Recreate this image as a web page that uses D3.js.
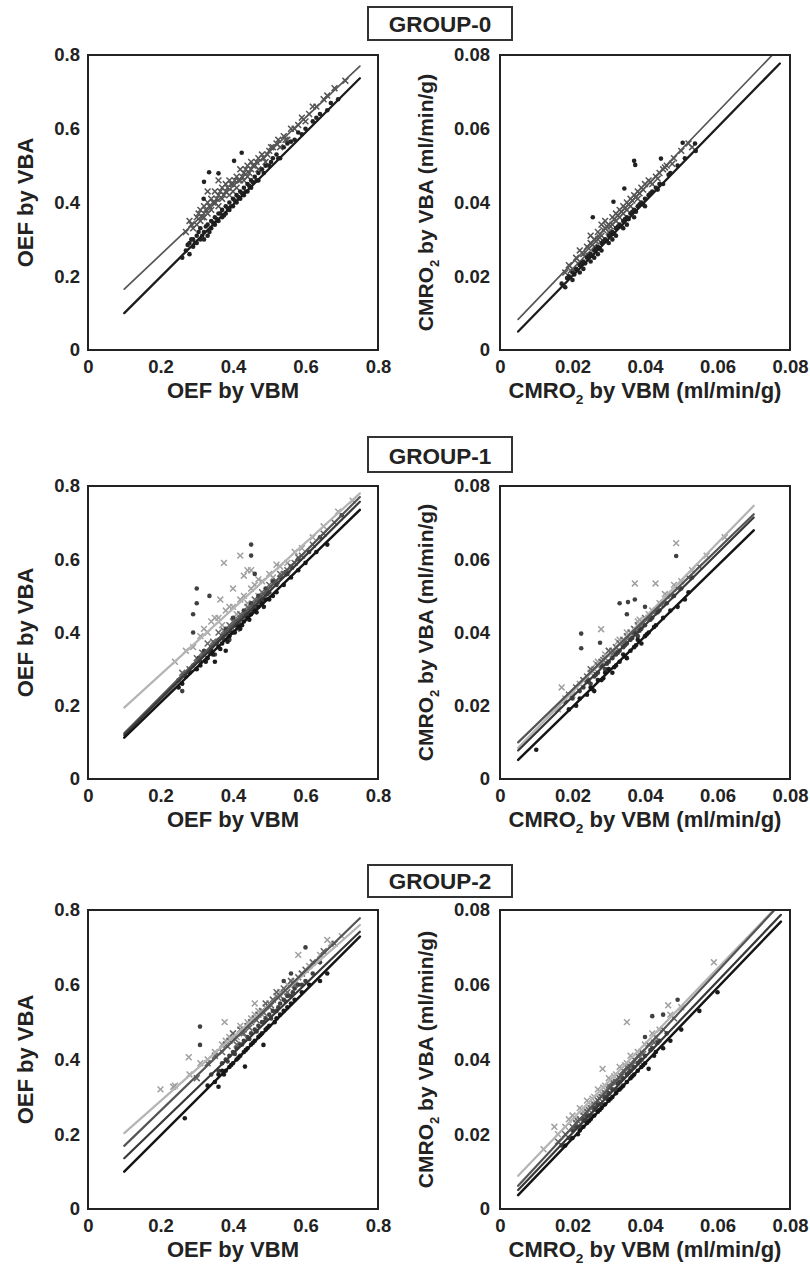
<!DOCTYPE html>
<html><head><meta charset="utf-8">
<script src="https://cdn.jsdelivr.net/npm/d3@7"></script>
<style>
body{margin:0;background:#fff}
text{font-family:"Liberation Sans",Arial,Helvetica,sans-serif;font-weight:bold;fill:#222}
.tick text{font-size:18.5px}
.ttl{font-size:22px}
.grp{font-size:22.5px}
</style>
</head><body><svg id="c" width="810" height="1273"></svg>
<script>
// ---------- labels ----------
const groupNames = ["GROUP-0","GROUP-1","GROUP-2"];
const oefTicks = [0,0.2,0.4,0.6,0.8];
const oefTickLabels = ["0","0.2","0.4","0.6","0.8"];
const cmroTicks = [0,0.02,0.04,0.06,0.08];
const cmroTickLabels = ["0","0.02","0.04","0.06","0.08"];
const oefXTitle = "OEF by VBM", oefYTitle = "OEF by VBA";
const cmroXTitle = ["CMRO","2"," by VBM (ml/min/g)"];
const cmroYTitle = ["CMRO","2"," by VBA (ml/min/g)"];

// ---------- GROUP-0 ----------
const g0OefA = [[.27,.32],[.28,.35],[.29,.33],[.30,.36],[.30,.34],[.31,.38],[.31,.35],[.32,.39],[.32,.36],[.33,.37],[.33,.40],[.34,.41],[.34,.38],[.35,.40],[.35,.43],[.36,.42],[.36,.39],[.37,.44],[.37,.41],[.38,.43],[.38,.45],[.39,.42],[.39,.46],[.40,.45],[.40,.43],[.41,.47],[.41,.44],[.42,.46],[.42,.49],[.43,.48],[.43,.46],[.44,.50],[.44,.47],[.45,.49],[.45,.51],[.46,.50],[.47,.52],[.47,.49],[.48,.53],[.49,.51],[.50,.54],[.51,.55],[.52,.56],[.53,.55],[.54,.58],[.55,.57],[.56,.60],[.58,.61],[.59,.63],[.61,.64],[.63,.66],[.65,.68],[.68,.71],[.71,.73],[.33,.43],[.36,.46],
  [.285,.34],[.305,.37],[.315,.36],[.325,.38],[.335,.39],[.345,.40],[.355,.41],[.365,.43],[.375,.42],[.385,.44],[.395,.45],[.405,.46],[.415,.46],[.425,.47],[.435,.49],[.445,.48],[.455,.50],[.465,.51],[.485,.52],[.495,.53],[.505,.55],[.525,.57],[.545,.57],[.57,.60],[.60,.62],[.62,.66],[.66,.69]];
const g0OefB = [[.27,.27],[.28,.29],[.28,.26],[.29,.30],[.29,.28],[.30,.31],[.30,.29],[.31,.30],[.31,.33],[.32,.32],[.32,.30],[.33,.34],[.33,.31],[.34,.35],[.34,.33],[.35,.34],[.35,.36],[.36,.37],[.36,.35],[.37,.36],[.37,.38],[.38,.39],[.38,.37],[.39,.40],[.39,.38],[.40,.41],[.40,.39],[.41,.42],[.41,.40],[.42,.43],[.42,.41],[.43,.44],[.43,.42],[.44,.45],[.44,.43],[.45,.46],[.45,.44],[.46,.47],[.47,.48],[.47,.46],[.48,.49],[.49,.50],[.50,.50],[.51,.52],[.52,.53],[.53,.52],[.54,.55],[.55,.56],[.57,.57],[.58,.59],[.60,.60],[.62,.62],[.64,.64],[.66,.65],[.69,.68],[.424,.535],[.334,.482],[.36,.479],[.32,.456],[.319,.41],[.403,.513],[.26,.25],
  [.275,.285],[.285,.30],[.295,.29],[.305,.32],[.315,.31],[.325,.335],[.335,.32],[.345,.345],[.355,.355],[.365,.37],[.375,.365],[.385,.385],[.395,.39],[.405,.405],[.415,.415],[.425,.425],[.435,.43],[.445,.445],[.455,.455],[.465,.46],[.485,.48],[.505,.51],[.525,.52],[.56,.565],[.59,.585],[.63,.63],[.67,.67]];
const g0OefLines = [[.1,.165,.75,.77],[.1,.10,.75,.737]];

const g0CmroA = [[.018,.021],[.019,.023],[.020,.022],[.021,.025],[.022,.024],[.022,.027],[.023,.026],[.024,.028],[.024,.026],[.025,.029],[.025,.031],[.026,.030],[.026,.028],[.027,.032],[.027,.030],[.028,.031],[.028,.034],[.029,.033],[.029,.035],[.030,.034],[.030,.032],[.031,.036],[.031,.034],[.032,.035],[.032,.037],[.033,.036],[.033,.038],[.034,.039],[.034,.037],[.035,.040],[.035,.038],[.036,.041],[.036,.039],[.037,.042],[.038,.043],[.038,.041],[.039,.044],[.040,.045],[.041,.046],[.042,.045],[.043,.047],[.044,.048],[.045,.049],[.046,.050],[.048,.052],[.050,.054],[.052,.056],[.053,.055],
  [.0195,.0215],[.0215,.0235],[.0235,.0255],[.0245,.0275],[.0255,.0285],[.0265,.0295],[.0275,.0305],[.0285,.0325],[.0295,.0335],[.0305,.0335],[.0315,.0355],[.0325,.0365],[.0335,.0375],[.0345,.0385],[.0355,.0395],[.0365,.0405],[.0375,.0415],[.0385,.0425],[.0395,.0435],[.0415,.0455],[.0435,.0465],[.0455,.0495],[.0475,.0505]];
const g0CmroB = [[.017,.018],[.018,.017],[.019,.020],[.020,.019],[.020,.021],[.021,.022],[.022,.021],[.022,.023],[.023,.024],[.023,.022],[.024,.025],[.025,.024],[.025,.026],[.026,.027],[.026,.025],[.027,.028],[.027,.026],[.028,.029],[.028,.027],[.029,.030],[.030,.031],[.030,.029],[.031,.032],[.031,.030],[.032,.033],[.032,.031],[.033,.034],[.034,.035],[.034,.033],[.035,.036],[.035,.034],[.036,.037],[.037,.038],[.037,.036],[.038,.039],[.039,.040],[.040,.041],[.040,.039],[.041,.042],[.042,.043],[.043,.044],[.044,.045],[.045,.045],[.047,.048],[.049,.050],[.051,.052],[.054,.054],[.037,.0513],[.0373,.0502],[.0256,.036],[.0343,.0438],[.0313,.0402],[.0444,.0519],[.0504,.0562],[.0538,.056],
  [.0185,.0195],[.0205,.0205],[.0225,.0235],[.0235,.0235],[.0245,.0255],[.0255,.0255],[.0265,.0275],[.0275,.0275],[.0285,.0295],[.0295,.0295],[.0305,.0315],[.0315,.0315],[.0325,.0335],[.0335,.0335],[.0345,.0355],[.0355,.0355],[.0365,.0375],[.0375,.0375],[.0385,.0395],[.0395,.0395],[.0415,.0425],[.0435,.0435],[.0465,.0475]];
const g0CmroLines = [[.005,.0083,.0756,.0805],[.005,.005,.0772,.0777]];

// ---------- GROUP-1 ----------
const g1OefA = [[.24,.32],[.27,.35],[.29,.36],[.31,.39],[.33,.40],[.34,.43],[.36,.44],[.37,.42],[.38,.46],[.40,.47],[.41,.45],[.42,.49],[.43,.50],[.44,.48],[.45,.52],[.46,.53],[.47,.50],[.48,.54],[.50,.56],[.51,.55],[.53,.58],[.55,.59],[.57,.62],[.59,.63],[.62,.66],[.65,.69],[.69,.73],[.73,.76],[.375,.59],[.42,.61],[.44,.57],[.365,.49],[.40,.52],[.43,.555],[.45,.57],
  [.32,.41],[.35,.44],[.39,.47],[.47,.545],[.52,.585]];
const g1OefB = [[.26,.29],[.28,.30],[.30,.33],[.32,.34],[.33,.37],[.35,.37],[.36,.40],[.38,.39],[.39,.42],[.40,.43],[.41,.41],[.42,.45],[.43,.44],[.44,.47],[.45,.46],[.46,.49],[.47,.48],[.48,.51],[.49,.50],[.50,.53],[.52,.54],[.53,.56],[.55,.57],[.57,.59],[.59,.61],[.62,.64],[.65,.67],[.68,.70],
  [.315,.345],[.345,.375],[.375,.405],[.395,.415],[.415,.435],[.435,.455],[.455,.475],[.475,.495],[.495,.515],[.515,.535],[.54,.56],[.56,.58],[.58,.605]];
const g1OefC = [[.25,.27],[.27,.28],[.29,.31],[.31,.32],[.32,.35],[.34,.36],[.35,.34],[.36,.38],[.37,.39],[.38,.41],[.39,.38],[.40,.44],[.41,.43],[.42,.42],[.43,.46],[.44,.45],[.45,.48],[.46,.47],[.47,.50],[.48,.49],[.49,.52],[.50,.51],[.51,.54],[.53,.55],[.55,.56],[.56,.58],[.58,.60],[.61,.62],[.64,.66],[.70,.72],[.30,.52],[.30,.48],[.29,.45],[.29,.40],[.45,.64],[.45,.61],[.335,.50],[.46,.56],[.26,.24],
  [.305,.33],[.335,.345],[.355,.37],[.375,.38],[.395,.40],[.415,.425],[.435,.445],[.455,.46],[.475,.485],[.495,.505],[.52,.53],[.545,.565]];
const g1OefD = [[.25,.25],[.26,.26],[.28,.29],[.30,.30],[.31,.31],[.33,.33],[.34,.35],[.35,.32],[.36,.36],[.37,.37],[.38,.35],[.39,.39],[.40,.40],[.41,.42],[.42,.41],[.43,.43],[.44,.44],[.45,.45],[.46,.46],[.47,.47],[.48,.48],[.49,.49],[.50,.49],[.52,.51],[.54,.53],[.56,.55],[.58,.57],[.60,.59],[.63,.62],[.66,.64],
  [.325,.32],[.345,.34],[.365,.355],[.385,.375],[.405,.40],[.425,.42],[.445,.435],[.465,.455],[.485,.47],[.51,.50]];
const g1OefLines = [[.1,.195,.75,.78],[.1,.125,.75,.77],[.1,.12,.75,.757],[.1,.113,.75,.735]];

const g1CmroA = [[.016,.019],[.018,.022],[.020,.023],[.022,.026],[.023,.027],[.025,.029],[.026,.030],[.027,.032],[.028,.031],[.029,.034],[.030,.035],[.031,.034],[.032,.036],[.033,.038],[.034,.037],[.035,.040],[.036,.039],[.037,.041],[.038,.043],[.039,.042],[.041,.045],[.042,.046],[.044,.048],[.046,.050],[.048,.053],[.050,.054],[.053,.057],[.057,.061],[.062,.066],[.0486,.0644],[.0372,.0534],[.0429,.0534],[.0279,.0409],[.017,.025],
  [.0265,.0315],[.0325,.0375],[.0385,.0435],[.0455,.0505]];
const g1CmroB = [[.019,.023],[.021,.025],[.023,.027],[.024,.028],[.025,.030],[.027,.031],[.028,.032],[.029,.033],[.030,.035],[.031,.035],[.032,.036],[.033,.037],[.034,.038],[.035,.039],[.036,.040],[.037,.041],[.038,.042],[.040,.044],[.041,.044],[.043,.046],[.045,.048],[.047,.050],[.049,.052],[.052,.055],[.055,.058],
  [.0255,.0295],[.0285,.0325],[.0315,.0345],[.0345,.0375],[.0375,.0405],[.0395,.0425],[.0425,.0455],[.0445,.0475]];
const g1CmroC = [[.018,.021],[.020,.022],[.022,.024],[.023,.025],[.024,.027],[.025,.026],[.026,.028],[.027,.029],[.028,.031],[.029,.030],[.030,.032],[.031,.033],[.032,.034],[.033,.035],[.034,.036],[.035,.037],[.036,.038],[.037,.040],[.038,.039],[.039,.041],[.040,.042],[.042,.044],[.044,.046],[.046,.048],[.048,.050],[.050,.052],[.053,.055],[.0224,.0397],[.0224,.0357],[.0486,.0609],[.033,.048],[.0353,.0483],[.0372,.049],[.0276,.0372],[.035,.045],[.040,.047],
  [.0245,.0265],[.0265,.0285],[.0295,.0315],[.0325,.0345],[.0345,.0365],[.0365,.0385],[.0385,.0405],[.0415,.0435],[.0435,.0455]];
const g1CmroD = [[.010,.008],[.019,.019],[.021,.020],[.022,.022],[.024,.023],[.025,.025],[.026,.024],[.027,.027],[.028,.027],[.029,.029],[.030,.030],[.031,.029],[.032,.031],[.033,.032],[.034,.034],[.035,.033],[.036,.035],[.037,.036],[.038,.038],[.039,.037],[.040,.039],[.041,.040],[.043,.042],[.045,.044],[.047,.046],[.049,.047],[.051,.049],[.052,.051],
  [.0255,.0245],[.0285,.0275],[.0315,.0305],[.0345,.0335],[.0375,.0365],[.0405,.0395],[.0425,.0415]];
const g1CmroLines = [[.005,.0085,.07,.0746],[.005,.0100,.07,.0723],[.005,.0078,.07,.0714],[.005,.0052,.07,.0679]];

// ---------- GROUP-2 ----------
const g2OefA = [[.20,.32],[.24,.33],[.28,.36],[.31,.39],[.33,.40],[.35,.42],[.37,.44],[.38,.45],[.40,.47],[.41,.46],[.42,.49],[.43,.48],[.45,.51],[.46,.52],[.47,.53],[.48,.52],[.50,.55],[.51,.56],[.52,.57],[.54,.58],[.55,.60],[.57,.61],[.59,.63],[.61,.65],[.64,.68],[.67,.71],[.70,.73],[.377,.50],[.278,.406],[.235,.327],[.46,.55],[.58,.68],[.66,.72],
  [.39,.46],[.44,.50],[.49,.54],[.53,.58],[.56,.61]];
const g2OefB = [[.30,.35],[.33,.39],[.35,.41],[.37,.42],[.38,.44],[.39,.45],[.40,.47],[.41,.44],[.42,.48],[.43,.47],[.44,.49],[.45,.50],[.46,.51],[.47,.52],[.48,.53],[.49,.55],[.50,.54],[.51,.56],[.52,.58],[.53,.57],[.54,.59],[.55,.58],[.56,.61],[.57,.60],[.58,.62],[.60,.64],[.62,.66],[.65,.69],[.68,.71],
  [.385,.435],[.405,.455],[.425,.47],[.445,.485],[.465,.505],[.485,.525],[.505,.545],[.525,.565],[.545,.585],[.565,.605],[.59,.63]];
const g2OefC = [[.34,.36],[.36,.37],[.37,.39],[.38,.40],[.39,.41],[.40,.42],[.41,.43],[.42,.44],[.43,.45],[.44,.46],[.45,.47],[.46,.48],[.47,.49],[.48,.50],[.49,.51],[.50,.52],[.51,.53],[.52,.53],[.53,.55],[.54,.56],[.55,.57],[.56,.57],[.57,.59],[.58,.60],[.60,.61],[.62,.63],[.64,.66],[.309,.488],[.309,.439],[.60,.70],[.56,.63],[.54,.61],
  [.385,.395],[.405,.415],[.425,.44],[.445,.455],[.465,.475],[.485,.50],[.505,.51],[.525,.54],[.545,.555],[.565,.58],[.59,.60]];
const g2OefD = [[.33,.33],[.35,.34],[.36,.36],[.37,.37],[.38,.37],[.39,.38],[.40,.39],[.41,.40],[.42,.41],[.43,.42],[.44,.43],[.45,.44],[.46,.45],[.47,.46],[.48,.47],[.49,.48],[.50,.49],[.52,.51],[.53,.52],[.55,.54],[.57,.56],[.59,.58],[.61,.60],[.64,.61],[.66,.63],[.267,.243],[.433,.381],[.484,.439],[.36,.327],
  [.375,.36],[.395,.385],[.415,.405],[.435,.425],[.455,.445],[.475,.465],[.495,.485],[.515,.50],[.54,.53],[.56,.55]];
const g2OefLines = [[.1,.203,.75,.76],[.1,.169,.75,.778],[.1,.136,.75,.742],[.1,.10,.75,.729]];

const g2CmroA = [[.012,.016],[.015,.022],[.016,.020],[.018,.022],[.019,.024],[.020,.025],[.021,.024],[.022,.027],[.023,.026],[.024,.029],[.025,.028],[.026,.030],[.027,.032],[.028,.031],[.029,.033],[.030,.035],[.031,.034],[.032,.036],[.033,.038],[.034,.037],[.035,.039],[.036,.041],[.038,.042],[.040,.044],[.042,.047],[.044,.048],[.047,.052],[.050,.054],[.059,.066],[.0464,.0545],[.035,.050],[.0283,.0375],
  [.0225,.0265],[.0255,.0295],[.0285,.0325],[.0315,.0355],[.0345,.0385]];
const g2CmroB = [[.016,.018],[.018,.020],[.020,.022],[.021,.023],[.022,.024],[.023,.025],[.024,.026],[.025,.027],[.026,.028],[.027,.029],[.028,.030],[.029,.031],[.030,.033],[.031,.034],[.032,.034],[.033,.035],[.034,.037],[.035,.038],[.036,.038],[.037,.040],[.038,.041],[.039,.042],[.041,.044],[.043,.046],[.045,.048],[.048,.051],
  [.0215,.0235],[.0245,.0265],[.0275,.0295],[.0305,.0325],[.0335,.0355],[.0365,.0385],[.0395,.0415],[.0425,.0445]];
const g2CmroC = [[.017,.017],[.019,.019],[.020,.021],[.021,.022],[.022,.022],[.023,.024],[.024,.025],[.025,.025],[.026,.027],[.027,.028],[.028,.028],[.029,.030],[.030,.031],[.031,.032],[.032,.032],[.033,.034],[.034,.035],[.035,.036],[.036,.037],[.037,.038],[.038,.039],[.039,.040],[.040,.041],[.042,.043],[.044,.045],[.046,.047],[.049,.056],[.042,.0516],[.045,.052],[.040,.046],
  [.0235,.0235],[.0265,.0265],[.0295,.0295],[.0325,.0335],[.0355,.0365],[.0385,.0395],[.0415,.0425],[.0435,.0445]];
const g2CmroD = [[.018,.017],[.020,.019],[.022,.021],[.023,.022],[.024,.023],[.025,.024],[.026,.025],[.027,.026],[.028,.027],[.029,.028],[.030,.029],[.031,.030],[.032,.031],[.033,.032],[.034,.033],[.035,.034],[.036,.035],[.037,.036],[.038,.037],[.039,.038],[.040,.039],[.041,.0375],[.043,.042],[.045,.043],[.047,.045],[.050,.048],[.055,.053],[.060,.058],
  [.0215,.020],[.0245,.0235],[.0275,.0265],[.0305,.0295],[.0335,.0325],[.0365,.0355],[.0395,.0385],[.0425,.041]];
const g2CmroLines = [[.005,.0089,.0755,.080],[.005,.0062,.0762,.0805],[.005,.0051,.0775,.0787],[.005,.0037,.0775,.0769]];

// ---------- styles / layout ----------
const ptStyles2 = [{shape:"times",color:"#555"},{shape:"circle",color:"#222"}];
const ptStyles4 = [{shape:"times",color:"#a0a0a0"},{shape:"times",color:"#656565"},{shape:"circle",color:"#404040"},{shape:"circle",color:"#1c1c1c"}];
const lnStyles2 = [{color:"#555",w:1.7},{color:"#1c1c1c",w:2.3}];
const lnStyles4 = [{color:"#b4b4b4",w:2.2},{color:"#555",w:2.2},{color:"#383838",w:2.2},{color:"#151515",w:2.5}];

const svg = d3.select("#c");
const defs = svg.append("defs");
let clipId = 0;

const rows = [{top:55,bot:350,box:[7,40]},{top:486,bot:779,box:[437,472]},{top:910,bot:1209,box:[865,897]}];
const cols = [{x0:88,x1:378},{x0:500,x1:790}];

function titleText(g, parts, x, y, rotate, size){
  const t = g.append("text").attr("class","ttl").attr("text-anchor","middle")
    .style("font-size",size+"px")
    .attr("transform", rotate ? `translate(${x},${y}) rotate(-90)` : `translate(${x},${y})`);
  if (typeof parts === "string") { t.text(parts); return; }
  t.append("tspan").text(parts[0]);
  t.append("tspan").text(parts[1]).style("font-size",(size*0.62)+"px").attr("dy",6);
  t.append("tspan").text(parts[2]).attr("dy",-6);
}

function panel(row, col, kind, series, lines, n){
  const r = rows[row], c = cols[col];
  const isOef = kind === "oef";
  const ticks = isOef ? oefTicks : cmroTicks;
  const labels = isOef ? oefTickLabels : cmroTickLabels;
  const dmax = ticks[ticks.length-1];
  const x = d3.scaleLinear().domain([0,dmax]).range([c.x0,c.x1]);
  const y = d3.scaleLinear().domain([0,dmax]).range([r.bot,r.top]);
  const g = svg.append("g");
  const id = "clip"+(clipId++);
  defs.append("clipPath").attr("id",id).append("rect")
    .attr("x",c.x0).attr("y",r.top).attr("width",c.x1-c.x0).attr("height",r.bot-r.top);
  const pg = g.append("g").attr("clip-path",`url(#${id})`);
  const ps = n===2 ? ptStyles2 : ptStyles4;
  const ls = n===2 ? lnStyles2 : lnStyles4;
  const timesT = d3.symbolTimes || d3.symbolCross;
  series.forEach((pts,i)=>{
    const st = ps[i];
    if (st.shape === "circle") {
      pg.append("g").selectAll("circle").data(pts).join("circle")
        .attr("cx",d=>x(d[0])).attr("cy",d=>y(d[1])).attr("r",2.3).attr("fill",st.color);
    } else {
      const sym = d3.symbol().type(timesT).size(24);
      pg.append("g").selectAll("path").data(pts).join("path")
        .attr("transform",d=>`translate(${x(d[0])},${y(d[1])})`)
        .attr("d",sym).attr("fill","none").attr("stroke",st.color).attr("stroke-width",1.5);
    }
  });
  lines.forEach((l,i)=>{
    pg.append("line").attr("x1",x(l[0])).attr("y1",y(l[1])).attr("x2",x(l[2])).attr("y2",y(l[3]))
      .attr("stroke",ls[i].color).attr("stroke-width",ls[i].w).attr("stroke-linecap","round");
  });
  g.append("rect").attr("x",c.x0).attr("y",r.top).attr("width",c.x1-c.x0).attr("height",r.bot-r.top)
    .attr("fill","none").attr("stroke","#222").attr("stroke-width",2);
  const xa = g.append("g").attr("transform",`translate(0,${r.bot})`)
    .call(d3.axisBottom(x).tickValues(ticks).tickFormat((d,i)=>labels[i]).tickSize(0).tickPadding(10));
  const ya = g.append("g").attr("transform",`translate(${c.x0},0)`)
    .call(d3.axisLeft(y).tickValues(ticks).tickFormat((d,i)=>labels[i]).tickSize(0).tickPadding(col===0?8:10));
  [xa,ya].forEach(a=>{a.attr("font-size",null).attr("font-family",null); a.select(".domain").remove();});
  const cx = (c.x0+c.x1)/2, cy = (r.top+r.bot)/2;
  if (isOef) {
    titleText(g, oefXTitle, cx, r.bot+48, false, 22);
    titleText(g, oefYTitle, c.x0-55, cy, true, 22);
  } else {
    titleText(g, cmroXTitle, cx, r.bot+48, false, 22);
    titleText(g, cmroYTitle, c.x0-67, cy, true, 21);
  }
}

function groupBox(row, name){
  const b = rows[row].box;
  svg.append("rect").attr("x",368).attr("y",b[0]).attr("width",144).attr("height",b[1]-b[0])
    .attr("fill","#fff").attr("stroke","#333").attr("stroke-width",2);
  svg.append("text").attr("class","grp").attr("x",440).attr("y",b[1]-8).attr("text-anchor","middle").text(name);
}

panel(0,0,"oef",[g0OefA,g0OefB],g0OefLines,2);
panel(0,1,"cmro",[g0CmroA,g0CmroB],g0CmroLines,2);
panel(1,0,"oef",[g1OefA,g1OefB,g1OefC,g1OefD],g1OefLines,4);
panel(1,1,"cmro",[g1CmroA,g1CmroB,g1CmroC,g1CmroD],g1CmroLines,4);
panel(2,0,"oef",[g2OefA,g2OefB,g2OefC,g2OefD],g2OefLines,4);
panel(2,1,"cmro",[g2CmroA,g2CmroB,g2CmroC,g2CmroD],g2CmroLines,4);
groupNames.forEach((nm,i)=>groupBox(i,nm));
</script></body></html>
